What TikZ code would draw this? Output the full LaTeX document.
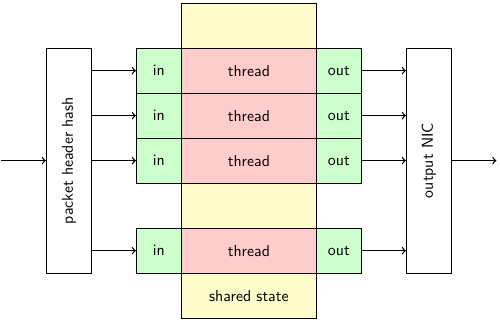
\documentclass[tikz,border=0pt]{standalone}
\begin{document}
\begin{tikzpicture}[font=\sffamily,
  box/.style={draw, semithick, inner sep=0pt, minimum height=1cm},
  inbox/.style={box, fill=green!20, minimum width=1cm},
  thbox/.style={box, fill=red!20, minimum width=3cm},
  tall/.style={draw, semithick, fill=white, inner sep=0pt, minimum width=1cm, minimum height=5cm},
  arr/.style={->, thick}]
\useasboundingbox (-0.03,-0.04) rectangle (11.08,7.07);
\node[draw, semithick, fill=yellow!20, minimum width=3cm, minimum height=7cm, inner sep=0pt] (shared) at (5.5,3.5) {};
\node (sslabel) at (5.5,0.5) {shared state};
\foreach \i/\y in {1/5.5, 2/4.5, 3/3.5, 4/1.5} {
  \node[inbox] (in\i) at (3.5,\y) {in};
  \node[thbox] (th\i) at (5.5,\y) {thread};
  \node[inbox] (out\i) at (7.5,\y) {out};
}
\node[tall] (hash) at (1.5,3.5) {\rotatebox{90}{packet header hash}};
\node[tall] (nic) at (9.5,3.5) {\rotatebox{90}{output NIC}};
\coordinate (src) at (0,3.5);
\coordinate (dst) at (11,3.5);
\draw[arr] (src) -- (hash.west);
\draw[arr] (nic.east) -- (dst);
\foreach \i in {1,2,3,4} {
  \draw[arr] (hash.east |- in\i) -- (in\i.west);
  \draw[arr] (out\i.east) -- (nic.west |- out\i);
}
\end{tikzpicture}
\end{document}
